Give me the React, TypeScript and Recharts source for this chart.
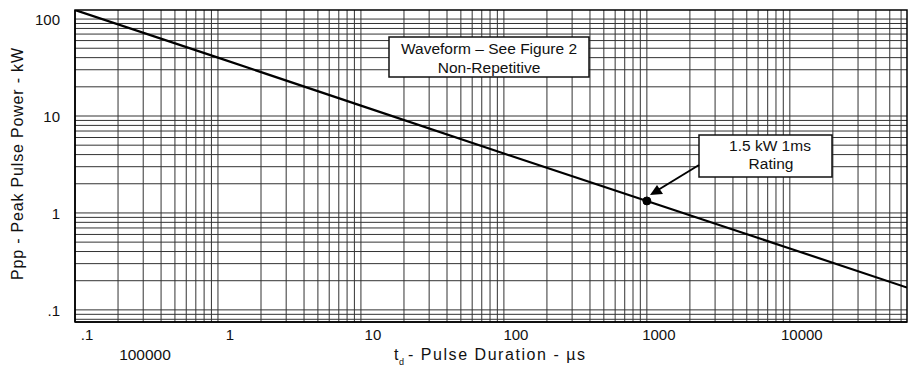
import React from "react";
import { LineChart, Line, XAxis, YAxis, ReferenceLine, ReferenceDot } from "recharts";

// pulse duration (µs) and peak pulse power (kW)
const pulseDuration = [0.1, 1, 10, 100, 1000, 10000, 66000];
const peakPower = [124, 40, 12.8, 4.1, 1.33, 0.43, 0.17];

const xTicks = [0.1, 1, 10, 100, 1000, 10000];
const xTickLabels = [".1", "1", "10", "100", "1000", "10000"];
const yTicks = [0.1, 1, 10, 100];
const yTickLabels = [".1", "1", "10", "100"];

const ratingPoint = { td: 1000, ppp: 1.33 };

const X_DOMAIN: [number, number] = [0.1, 66000];
const Y_DOMAIN: [number, number] = [0.075, 124];

const data = pulseDuration.map((td, i) => ({ td, ppp: peakPower[i] }));

// log grid lines (1..9 in each decade)
const decadeGrid = (from: number, to: number, lo: number, hi: number) => {
  const out: number[] = [];
  for (let d = from; d <= to; d++) {
    for (let m = 1; m <= 9; m++) {
      const v = m * Math.pow(10, d);
      if (v > lo && v < hi) out.push(v);
    }
  }
  return out;
};
const xGrid = decadeGrid(-1, 4, X_DOMAIN[0], X_DOMAIN[1]);
const yGrid = decadeGrid(-2, 2, Y_DOMAIN[0], Y_DOMAIN[1]);

const FONT = "'Liberation Sans', Arial, Helvetica, sans-serif";

const XTick = (props: any) => {
  const { x, y, payload } = props;
  const i = xTicks.indexOf(payload.value);
  return (
    <text x={x + 12} y={y + 16} textAnchor="middle" fontSize={15} fontFamily={FONT} fill="#111">
      {i >= 0 ? xTickLabels[i] : ""}
    </text>
  );
};

const YTick = (props: any) => {
  const { x, y, payload } = props;
  const i = yTicks.indexOf(payload.value);
  return (
    <text x={x - 13} y={y + 6} textAnchor="end" fontSize={15} fontFamily={FONT} fill="#111">
      {i >= 0 ? yTickLabels[i] : ""}
    </text>
  );
};

export default function App() {
  return (
    <div style={{ position: "absolute", left: 0, top: 0, width: 913, height: 368, background: "#fff" }}>
      <LineChart
        width={913}
        height={368}
        data={data}
        margin={{ top: 10, right: 6, bottom: 0, left: 0 }}
      >
        <XAxis
          dataKey="td"
          type="number"
          scale="log"
          domain={X_DOMAIN}
          ticks={xTicks}
          allowDataOverflow
          height={46}
          tickLine={false}
          tickSize={0}
          axisLine={{ stroke: "#000", strokeWidth: 1.5 }}
          tick={<XTick />}
        />
        <YAxis
          type="number"
          scale="log"
          domain={Y_DOMAIN}
          ticks={yTicks}
          allowDataOverflow
          width={75}
          tickLine={false}
          tickSize={0}
          axisLine={{ stroke: "#000", strokeWidth: 1.5 }}
          tick={<YTick />}
        />
        {xGrid.map((v) => (
          <ReferenceLine key={"x" + v} x={v} stroke="#333" strokeWidth={1} />
        ))}
        {yGrid.map((v) => (
          <ReferenceLine key={"y" + v} y={v} stroke="#333" strokeWidth={1} />
        ))}
        <Line
          dataKey="ppp"
          type="linear"
          stroke="#000"
          strokeWidth={2.2}
          dot={false}
          isAnimationActive={false}
        />
        <ReferenceDot x={ratingPoint.td} y={ratingPoint.ppp} r={4} fill="#000" stroke="#000" />
      </LineChart>

      <svg
        width={913}
        height={368}
        style={{ position: "absolute", left: 0, top: 0, pointerEvents: "none" }}
        fontFamily={FONT}
      >
        <rect x={75} y={10} width={832} height={312} fill="none" stroke="#000" strokeWidth={1.5} />

        <rect x={389} y={37} width={200} height={40} fill="#fff" stroke="#111" strokeWidth={1.5} />
        <text x={489} y={53.5} textAnchor="middle" fontSize={15.5} fill="#111">Waveform – See Figure 2</text>
        <text x={489} y={72.5} textAnchor="middle" fontSize={15.5} fill="#111">Non-Repetitive</text>

        <rect x={699} y={135} width={133} height={42} fill="#fff" stroke="#111" strokeWidth={1.5} />
        <text x={770} y={150.5} textAnchor="middle" fontSize={15.5} fill="#111">1.5 kW 1ms</text>
        <text x={771} y={168.5} textAnchor="middle" fontSize={15.5} fill="#111">Rating</text>

        <line x1={699} y1={165} x2={658} y2={190} stroke="#000" strokeWidth={2} />
        <polygon points="650,195 657,185 663,194" fill="#000" />

        <text x={145} y={360} textAnchor="middle" fontSize={15.5} fill="#111">100000</text>

        <text x={394} y={360} fontSize={16} fill="#111">t</text>
        <text x={399} y={365} fontSize={9} fill="#111">d</text>
        <text x={408} y={360} fontSize={16} fill="#111" textLength={177} lengthAdjust="spacing">
          - Pulse Duration - µs
        </text>

        <text
          x={0}
          y={0}
          transform="translate(23,164) rotate(-90)"
          textAnchor="middle"
          fontSize={16}
          fill="#111"
          textLength={232}
          lengthAdjust="spacing"
        >
          Ppp - Peak Pulse Power - kW
        </text>
      </svg>
    </div>
  );
}
